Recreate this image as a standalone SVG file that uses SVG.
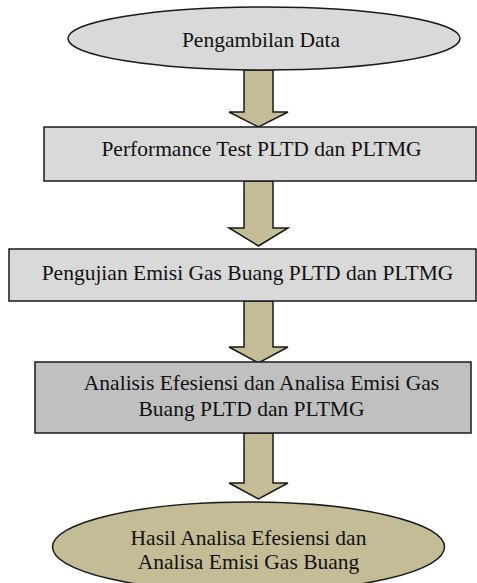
<svg xmlns="http://www.w3.org/2000/svg" width="477" height="583" viewBox="0 0 477 583">
  <style>
    .box { stroke: #1a1a1a; stroke-width: 1.5; }
    .light { fill: #d9d9d9; }
    .dark { fill: #c0c0c0; }
    .tan { fill: #c4bc96; }
    .arrow { fill: #c4bc96; stroke: #1a1a1a; stroke-width: 1.5; stroke-linejoin: miter; }
    text { font-family: "Liberation Serif", "Times New Roman", serif; font-size: 21.5px; fill: #111; text-anchor: middle; }
  </style>
  <rect width="477" height="583" fill="#ffffff"/>

  <!-- flow arrows -->
  <g id="connectors">
    <polygon class="arrow" points="244,70 273,70 273,112 288,112 258.5,127 229,112 244,112"/>
    <polygon class="arrow" points="244,181 273,181 273,228 288,228 258.5,246 229,228 244,228"/>
    <polygon class="arrow" points="244,301 273,301 273,347 288,347 258.5,363 229,347 244,347"/>
    <polygon class="arrow" points="244,433 273,433 273,483 288,483 258.5,499 229,483 244,483"/>
  </g>

  <g id="start">
    <ellipse class="box light" cx="264" cy="38.5" rx="196" ry="31.5"/>
    <text x="261" y="47">Pengambilan Data</text>
  </g>

  <g id="performance-test">
    <rect class="box light" x="44" y="127" width="432" height="54"/>
    <text x="261.5" y="156">Performance Test PLTD dan PLTMG</text>
  </g>

  <g id="emission-test">
    <rect class="box light" x="9" y="249" width="467" height="52"/>
    <text x="247.5" y="280">Pengujian Emisi Gas Buang PLTD dan PLTMG</text>
  </g>

  <g id="analysis">
    <rect class="box dark" x="35" y="362" width="436" height="71"/>
    <text x="261.5" y="390">Analisis Efesiensi dan Analisa Emisi Gas</text>
    <text x="251.5" y="416">Buang PLTD dan PLTMG</text>
  </g>

  <g id="result">
    <ellipse class="box tan" cx="248.5" cy="547" rx="196" ry="45"/>
    <text x="248.5" y="545">Hasil Analisa Efesiensi dan</text>
    <text x="248.5" y="569">Analisa Emisi Gas Buang</text>
  </g>
</svg>
